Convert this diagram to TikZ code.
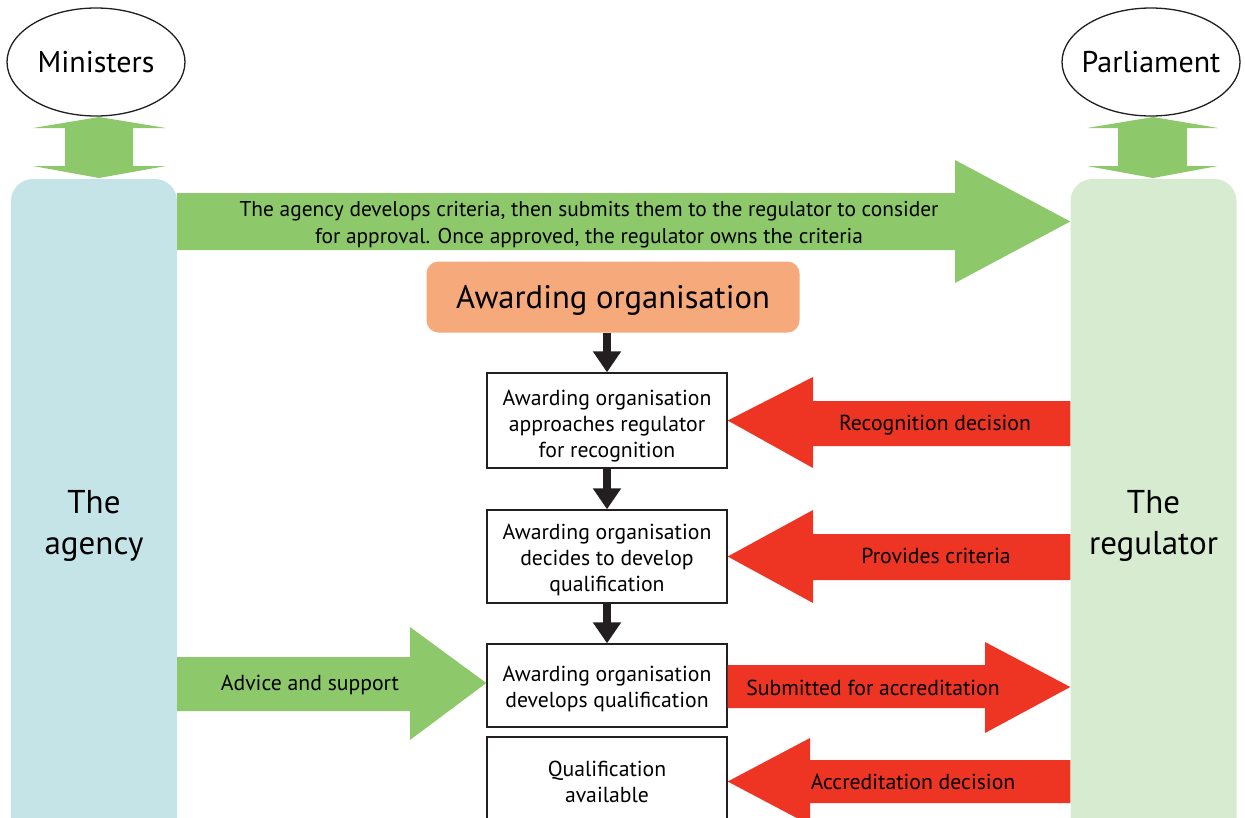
\documentclass[tikz,border=0pt]{standalone}
\usepackage{fontspec}
\setmainfont{PT Sans}
\usetikzlibrary{arrows.meta,shapes.geometric}
\definecolor{agreen}{HTML}{8DC96B}
\definecolor{ablue}{HTML}{C5E4E8}
\definecolor{lgreen}{HTML}{D7EBD0}
\definecolor{aorange}{HTML}{F6A97A}
\definecolor{ared}{HTML}{EE3524}
\definecolor{ablack}{HTML}{231F20}
\newcommand{\lowerby}[1]{\rule{0pt}{#1}}
\tikzset{
  fs/.style 2 args={font=\fontsize{#1}{#2}\selectfont},
  oval/.style={ellipse, draw=ablack, line width=1.3pt, fill=white, minimum width=178pt, minimum height=108pt, inner xsep=-12pt, inner ysep=0pt, fs={30}{34}},
  sidebox/.style={rounded corners=22pt, minimum width=166pt, minimum height=694pt, inner sep=0pt, align=center, fs={33}{41}},
  stepbox/.style={draw=ablack, line width=1.4pt, fill=white, minimum width=240pt, inner sep=0pt, align=center, fs={21.7}{26}},
  greenblock/.style={fill=agreen},
  redblock/.style={fill=ared},
  lbl/.style={align=center, inner sep=0pt, fs={21.7}{26}},
  flow/.style={draw=ablack, line width=8pt, -{Triangle[width=27pt,length=21pt]}, shorten >=0pt}
}
\begin{document}
\begin{tikzpicture}[x=1pt,y=-1pt]
\useasboundingbox (0,0) rectangle (1245,817);
\clip (0,0) rectangle (1245,817);
% side boxes
\node[sidebox, fill=ablue] (agency) at (94,526) {The\\agency};
\node[sidebox, fill=lgreen] (regulator) at (1153.5,526) {The\\regulator};
% ovals
\node[oval] (ministers) at (96,62) {Ministers};
\node[oval] (parliament) at (1151,62) {Parliament};
% double arrows
\fill[greenblock] (99,117) -- (166,128) -- (133,128) -- (133,166) -- (166,166) -- (99,178) -- (33,166) -- (65,166) -- (65,128) -- (33,128) -- cycle;
\fill[greenblock] (1153,117) -- (1218,128) -- (1187,128) -- (1187,166) -- (1218,166) -- (1153,178) -- (1087,166) -- (1118,166) -- (1118,128) -- (1087,128) -- cycle;
% top green arrow
\fill[greenblock] (agency.east |- 0,193) -- (955,193) -- (955,160) -- (regulator.west |- 0,221.5) -- (955,283) -- (955,250) -- (agency.east |- 0,250) -- cycle;
\node[lbl, fs={21.4}{27}] (toplbl) at (589,225) {The agency develops criteria, then submits them to the regulator to consider\\for approval. Once approved, the regulator owns the criteria};
% awarding organisation
\node[fill=aorange, rounded corners=12pt, minimum width=373pt, minimum height=71pt, inner sep=0pt, fs={32.6}{36}] (ao) at (613,297) {\lowerby{30pt}Awarding organisation};
% step boxes
\node[stepbox, minimum height=95pt] (b1) at (607,420.5) {\lowerby{26.5pt}Awarding organisation\\approaches regulator\\for recognition};
\node[stepbox, minimum height=93pt] (b2) at (607,556.5) {\lowerby{22.5pt}Awarding organisation\\decides to develop\\qualification};
\node[stepbox, minimum height=83pt] (b3) at (607,685.5) {\lowerby{22.5pt}Awarding organisation\\develops qualification};
\node[stepbox, minimum height=89pt] (b4) at (607,781.5) {Qualification\\available};
% black flow arrows
\draw[flow] (ao.south -| b1.north) -- (b1.north);
\draw[flow] (b1.south) -- (b2.north);
\draw[flow] (b2.south) -- (b3.north);
% red arrows from regulator
\fill[redblock] (b1.east) -- (813,377) -- (813,401) -- (regulator.west |- 0,401) -- (regulator.west |- 0,446) -- (813,446) -- (813,468) -- cycle;
\node[lbl] (l1) at (935,425) {Recognition decision};
\fill[redblock] (b2.east) -- (813,510) -- (813,534) -- (regulator.west |- 0,534) -- (regulator.west |- 0,580) -- (813,580) -- (813,603) -- cycle;
\node[lbl] (l2) at (936,556) {Provides criteria};
\fill[redblock] (b3.east |- 0,665) -- (985,665) -- (985,642) -- (regulator.west |- 0,687) -- (985,733) -- (985,708) -- (b3.east |- 0,708) -- cycle;
\node[lbl] (l3) at (873,688) {Submitted for accreditation};
\fill[redblock] (b4.east) -- (810,738) -- (810,760) -- (regulator.west |- 0,760) -- (regulator.west |- 0,803) -- (810,803) -- (810,825) -- cycle;
\node[lbl] (l4) at (913,782) {Accreditation decision};
% advice green arrow
\fill[greenblock] (agency.east |- 0,657) -- (410,657) -- (410,627) -- (b3.west |- 0,683) -- (410,740) -- (410,711) -- (agency.east |- 0,711) -- cycle;
\node[lbl] (l5) at (310,685) {Advice and support};
\end{tikzpicture}
\end{document}
